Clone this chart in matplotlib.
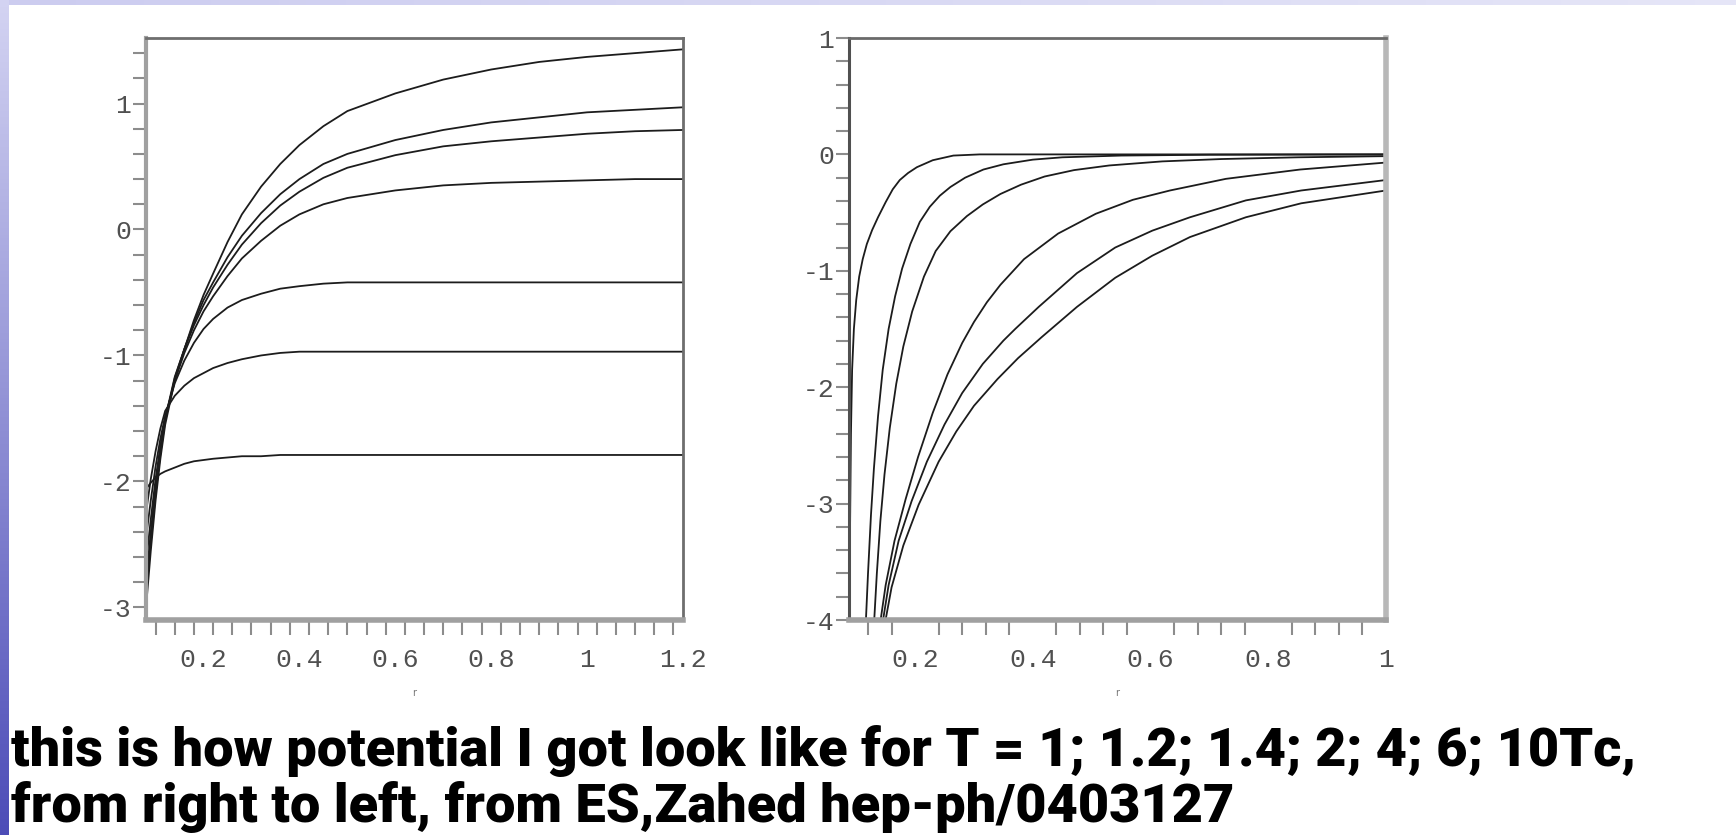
import numpy as np
import matplotlib.pyplot as plt
from matplotlib.ticker import MultipleLocator

W, H, DPI = 1736, 835, 100

# left panel: seven curves on one r grid
r_left = [0.08, 0.09, 0.10, 0.11, 0.12, 0.14, 0.16, 0.18, 0.20, 0.22, 0.25, 0.28,
          0.32, 0.36, 0.40, 0.45, 0.50, 0.60, 0.70, 0.80, 0.90, 1.00, 1.10, 1.20]
v_left_1 = [-3.00, -2.55, -2.15, -1.82, -1.55, -1.20, -0.95, -0.72, -0.52, -0.35, -0.10, 0.12,
            0.34, 0.52, 0.67, 0.82, 0.94, 1.08, 1.19, 1.27, 1.33, 1.37, 1.40, 1.43]
v_left_2 = [-2.90, -2.48, -2.10, -1.78, -1.52, -1.18, -0.95, -0.74, -0.56, -0.42, -0.22, -0.05,
            0.13, 0.28, 0.40, 0.52, 0.60, 0.71, 0.79, 0.85, 0.89, 0.93, 0.95, 0.97]
v_left_3 = [-2.80, -2.40, -2.04, -1.74, -1.50, -1.17, -0.95, -0.76, -0.60, -0.46, -0.28, -0.12,
            0.05, 0.19, 0.30, 0.41, 0.49, 0.59, 0.66, 0.70, 0.73, 0.76, 0.78, 0.79]
v_left_4 = [-2.65, -2.30, -1.98, -1.72, -1.50, -1.20, -0.98, -0.80, -0.65, -0.53, -0.37, -0.23,
            -0.09, 0.03, 0.12, 0.20, 0.25, 0.31, 0.35, 0.37, 0.38, 0.39, 0.40, 0.40]
v_left_5 = [-2.45, -2.15, -1.88, -1.66, -1.48, -1.22, -1.04, -0.90, -0.79, -0.71, -0.62, -0.56,
            -0.51, -0.47, -0.45, -0.43, -0.42, -0.42, -0.42, -0.42, -0.42, -0.42, -0.42, -0.42]
v_left_6 = [-2.25, -1.98, -1.76, -1.58, -1.44, -1.32, -1.24, -1.18, -1.14, -1.10, -1.06, -1.03,
            -1.00, -0.98, -0.97, -0.97, -0.97, -0.97, -0.97, -0.97, -0.97, -0.97, -0.97, -0.97]
v_left_7 = [-2.06, -2.01, -1.97, -1.94, -1.92, -1.89, -1.86, -1.84, -1.83, -1.82, -1.81, -1.80,
            -1.80, -1.79, -1.79, -1.79, -1.79, -1.79, -1.79, -1.79, -1.79, -1.79, -1.79, -1.79]
v_left = [v_left_1, v_left_2, v_left_3, v_left_4, v_left_5, v_left_6, v_left_7]

# right panel: each curve has its own r points
r_right_a = [0.0885, 0.0895, 0.091, 0.093, 0.096, 0.100, 0.105, 0.111, 0.118, 0.127, 0.137,
             0.150, 0.162, 0.174, 0.188, 0.203, 0.230, 0.265, 0.310, 0.400, 1.0]
v_right_a = [-4.1, -3.2, -2.4, -1.85, -1.50, -1.25, -1.05, -0.90, -0.77, -0.65, -0.54,
             -0.41, -0.30, -0.22, -0.16, -0.11, -0.05, -0.01, 0.0, 0.0, 0.0]
r_right_b = [0.116, 0.120, 0.125, 0.130, 0.137, 0.145, 0.155, 0.166, 0.178, 0.192, 0.208, 0.225,
             0.242, 0.260, 0.285, 0.316, 0.350, 0.400, 0.450, 0.550, 0.700, 1.0]
v_right_b = [-4.05, -3.60, -3.10, -2.70, -2.25, -1.85, -1.50, -1.22, -0.98, -0.77, -0.58, -0.45,
             -0.355, -0.28, -0.20, -0.13, -0.085, -0.045, -0.025, -0.01, -0.003, 0.0]
r_right_c = [0.130, 0.135, 0.141, 0.148, 0.157, 0.168, 0.180, 0.195, 0.215, 0.235, 0.260, 0.288,
             0.315, 0.345, 0.380, 0.420, 0.470, 0.530, 0.620, 0.720, 0.850, 1.0]
v_right_c = [-4.05, -3.60, -3.15, -2.75, -2.35, -1.97, -1.65, -1.35, -1.05, -0.83, -0.66, -0.53,
             -0.43, -0.34, -0.26, -0.19, -0.135, -0.095, -0.06, -0.04, -0.025, -0.015]
r_right_d = [0.140, 0.150, 0.165, 0.184, 0.205, 0.230, 0.255, 0.280, 0.300, 0.322, 0.345, 0.385,
             0.443, 0.507, 0.570, 0.633, 0.728, 0.854, 1.0]
v_right_d = [-4.05, -3.70, -3.32, -2.96, -2.60, -2.22, -1.89, -1.62, -1.44, -1.27, -1.12, -0.90,
             -0.68, -0.51, -0.39, -0.31, -0.21, -0.13, -0.07]
r_right_e = [0.144, 0.155, 0.172, 0.194, 0.220, 0.250, 0.280, 0.315, 0.350, 0.370, 0.410, 0.475,
             0.540, 0.603, 0.667, 0.762, 0.856, 1.0]
v_right_e = [-4.05, -3.70, -3.32, -2.98, -2.64, -2.32, -2.05, -1.80, -1.60, -1.50, -1.31, -1.02,
             -0.80, -0.655, -0.54, -0.395, -0.31, -0.22]
r_right_f = [0.148, 0.160, 0.180, 0.206, 0.240, 0.270, 0.300, 0.340, 0.375, 0.415, 0.445, 0.475,
             0.540, 0.603, 0.667, 0.762, 0.856, 1.0]
v_right_f = [-4.05, -3.72, -3.36, -3.01, -2.64, -2.38, -2.16, -1.93, -1.75, -1.57, -1.44, -1.31,
             -1.06, -0.87, -0.71, -0.54, -0.42, -0.31]
r_right = [r_right_a, r_right_b, r_right_c, r_right_d, r_right_e, r_right_f]
v_right = [v_right_a, v_right_b, v_right_c, v_right_d, v_right_e, v_right_f]

left_xticks = [0.2, 0.4, 0.6, 0.8, 1.0, 1.2]
left_xlabels = ['0.2', '0.4', '0.6', '0.8', '1', '1.2']
left_yticks = [-3, -2, -1, 0, 1]
right_xticks = [0.2, 0.4, 0.6, 0.8, 1.0]
right_xlabels = ['0.2', '0.4', '0.6', '0.8', '1']
right_yticks = [-4, -3, -2, -1, 0, 1]

caption = ["this is how potential I got look like for T = 1; 1.2; 1.4; 2; 4; 6; 10Tc,",
           "from right to left, from ES,Zahed hep-ph/0403127"]

plt.rcParams['axes.unicode_minus'] = False
TICKFONT = dict(family='Liberation Mono', size=19, color='#505050')
LINECOL = '#1c1c1c'

fig = plt.figure(figsize=(W / DPI, H / DPI), dpi=DPI, facecolor='white')

# slide decoration: blue strip on the left, light band on top
strip = fig.add_axes([0, 0, 9 / W, 1])
grad = np.linspace(0, 1, 256)[:, None, None]
top_c = np.array([0.83, 0.83, 0.95])
bot_c = np.array([0.30, 0.30, 0.72])
strip.imshow(top_c + (bot_c - top_c) * grad, aspect='auto', extent=(0, 1, 0, 1))
strip.axis('off')
band = fig.add_axes([9 / W, 1 - 5 / H, 1 - 9 / W, 5 / H])
gradx = np.linspace(0, 1, 256)[None, :, None]
band_l = np.array([0.80, 0.80, 0.94])
band_r = np.array([0.90, 0.90, 0.97])
band.imshow(band_l + (band_r - band_l) * gradx, aspect='auto', extent=(0, 1, 0, 1))
band.axis('off')


def style_axes(ax, xlim, ylim, xticks, xlabels, yticks, minor_x, spines):
    ax.set_xlim(*xlim)
    ax.set_ylim(*ylim)
    ax.set_xticks(xticks, xlabels)
    ax.set_yticks(yticks, [str(t) for t in yticks])
    ax.xaxis.set_minor_locator(minor_x)
    ax.yaxis.set_minor_locator(MultipleLocator(0.2))
    ax.tick_params(axis='x', which='major', length=0, pad=20)
    ax.tick_params(axis='x', which='minor', length=11, width=1.5, color='#8c8c8c')
    ax.tick_params(axis='y', which='both', length=9.5, width=1.5, color='#8c8c8c', pad=1)
    for lab in ax.get_xticklabels() + ax.get_yticklabels():
        lab.set_fontfamily(TICKFONT['family'])
        lab.set_fontsize(TICKFONT['size'])
        lab.set_color(TICKFONT['color'])
    for side, (col, lw) in spines.items():
        ax.spines[side].set_color(col)
        ax.spines[side].set_linewidth(lw)
    ax.set_xlabel('r', fontsize=7, color='#777777', labelpad=12)


axl = fig.add_axes([146 / W, 1 - 620 / H, 537 / W, 582 / H])
for v in v_left:
    axl.plot(r_left, v, color=LINECOL, lw=1.3)
style_axes(axl, (0.08, 1.2), (-3.1, 1.52), left_xticks, left_xlabels, left_yticks,
           MultipleLocator(0.04, offset=0.02),
           {'top': ('#6e6e6e', 2.0), 'left': ('#a0a0a0', 3.0),
            'right': ('#6e6e6e', 2.0), 'bottom': ('#a0a0a0', 4.0)})

axr = fig.add_axes([849 / W, 1 - 620 / H, 537 / W, 582 / H])
for r, v in zip(r_right, v_right):
    axr.plot(r, v, color=LINECOL, lw=1.3)
style_axes(axr, (0.0877, 1.0), (-4, 1), right_xticks, right_xlabels, right_yticks,
           MultipleLocator(0.04),
           {'top': ('#6a6a6a', 2.0), 'left': ('#505050', 2.2),
            'right': ('#b8b8b8', 4.0), 'bottom': ('#a0a0a0', 4.0)})

# caption, sized so the first line spans the slide width like the original
cap_style = dict(fontsize=24, fontweight='heavy', family=['Roboto', 'DejaVu Sans'],
                 color='black', va='baseline')
t1 = fig.text(11 / W, 1 - 766 / H, caption[0], **cap_style)
t2 = fig.text(11 / W, 1 - 822 / H, caption[1], **cap_style)
fig.canvas.draw()
w1 = t1.get_window_extent().width
fs = 24 * 1628 / w1
t1.set_fontsize(fs)
t2.set_fontsize(fs)

fig.savefig('out.png', dpi=DPI, facecolor='white')
